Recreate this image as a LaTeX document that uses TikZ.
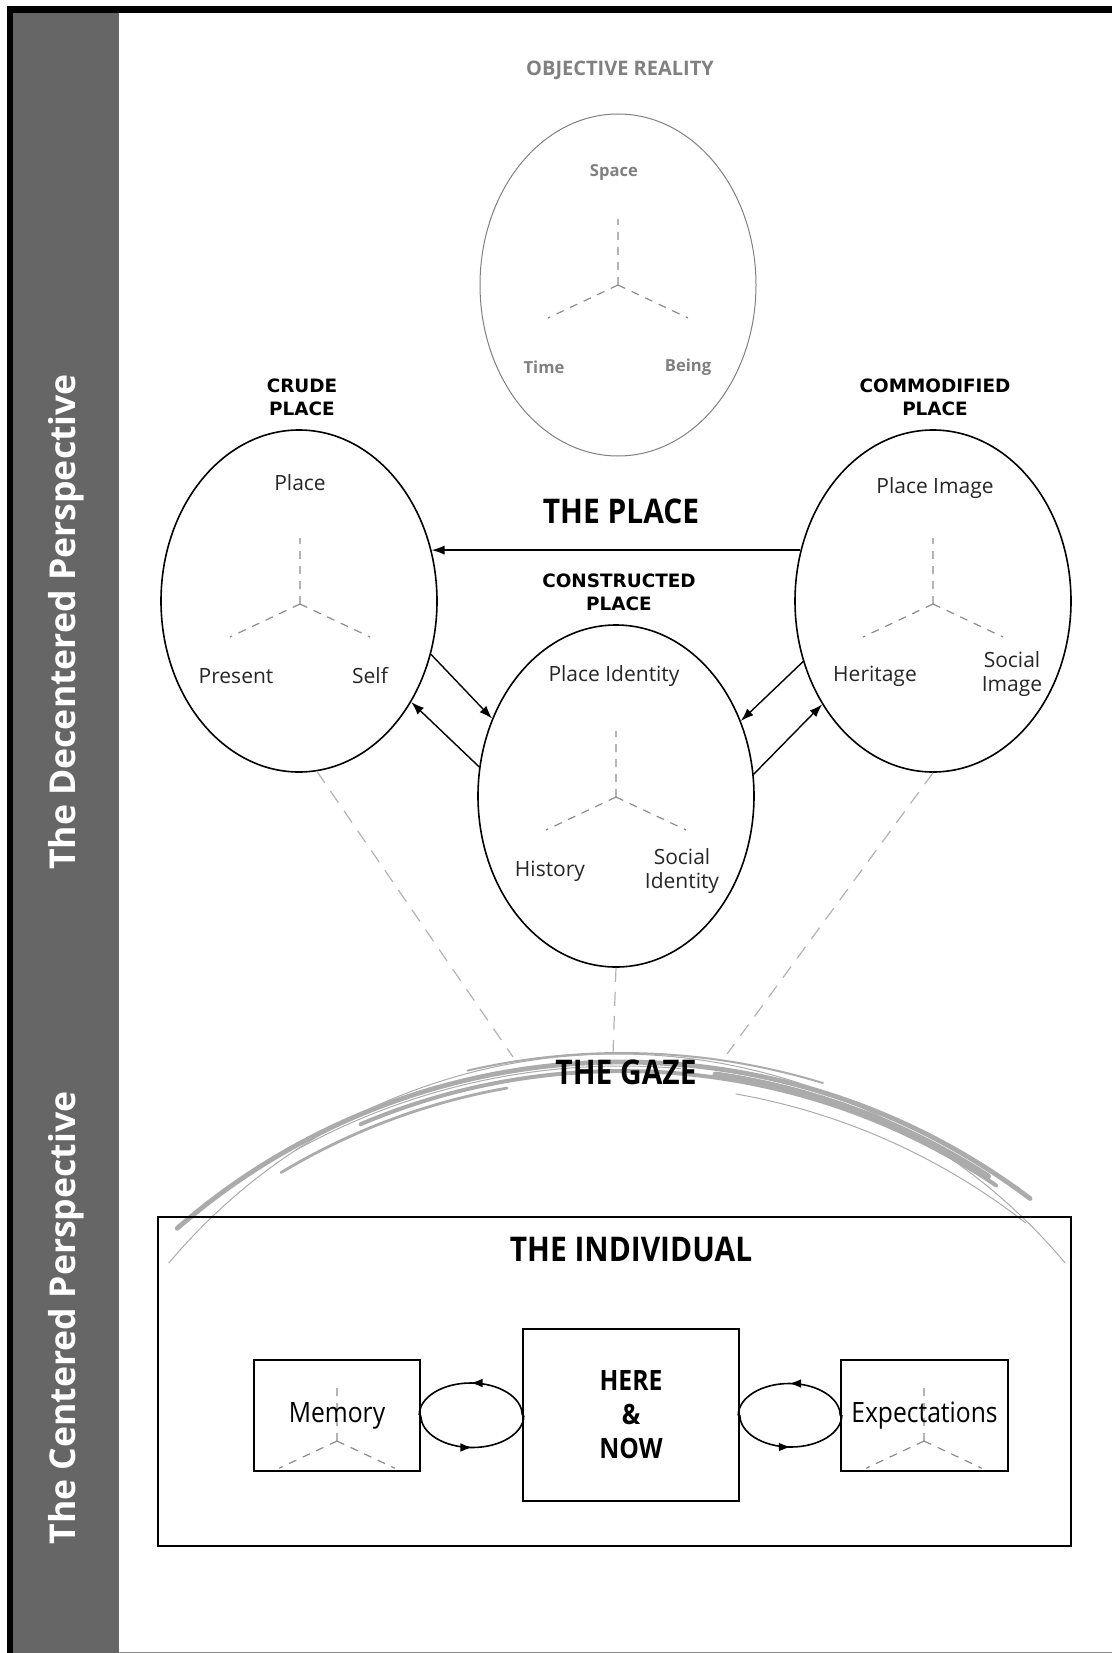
\documentclass[tikz,border=0pt]{standalone}
\usepackage{fontspec}
\setmainfont{Open Sans}
\newfontfamily\widefont{DejaVu Sans}
\newfontfamily\narrowfont{Open Sans}[FakeStretch=0.88]
\usetikzlibrary{shapes.geometric,decorations.markings,arrows.meta}

\begin{document}
\begin{tikzpicture}[x=0.5pt,y=-0.5pt,>={Latex[length=6.5pt,width=4.6pt]},
  oval/.style={ellipse,draw,line width=0.8pt,minimum width=138pt,minimum height=171pt,inner sep=0pt},
  box/.style={draw,line width=0.8pt,inner sep=0pt},
  txt/.style={font=\fontsize{10.5}{12}\selectfont,text=black!85,align=center},
  placecap/.style={font=\widefont\bfseries\fontsize{9.2}{11.5}\selectfont,align=center},
  head/.style={font=\narrowfont\bfseries\fontsize{17}{20}\selectfont},
  grey/.style={font=\bfseries\fontsize{8.3}{10}\selectfont,text=black!50},
  tri/.style={draw=black!45,line width=0.6pt,dash pattern=on 4pt off 3.5pt},
  ray/.style={draw=black!30,line width=0.6pt,dash pattern=on 7pt off 5pt},
  gz/.style={draw=black!33,line cap=round},
  cyc/.style={line width=0.8pt,postaction={decorate},
    decoration={markings,mark=at position 0.5 with {\arrow{Latex[length=6pt,width=4.4pt]}}}},
  side/.style={font=\bfseries\fontsize{17.8}{20}\selectfont,text=white,rotate=90}]
  \useasboundingbox (0,0) rectangle (1112,1653);
  % frame and side bar
  \fill[black] (7,6) rectangle (1112,13);
  \fill[black] (7,6) rectangle (13,1653);
  \fill[black!60] (13,13) rectangle (119,1653);
  \draw[black!45] (119,1652) -- (1112,1652);
  \node[side] (dec) at (66,622) {The Decentered Perspective};
  \node[side] (cen) at (66,1318) {The Centered Perspective};

  % objective reality
  \node[grey,font=\bfseries\fontsize{10}{12}\selectfont] (objt) at (620,70) {OBJECTIVE REALITY};
  \node[oval,draw=black!50,line width=0.5pt] (obj) at (618,285) {};
  \begin{scope}[shift={(618,285)}]
    \draw[tri] (0,0) -- (0,-66) (0,0) -- (-70,33) (0,0) -- (70,33);
  \end{scope}
  \node[grey] (spc) at (614,172) {Space};
  \node[grey] (tim) at (544,367) {Time};
  \node[grey] (bei) at (688,367) {Being};

  % crude place
  \node[placecap] (crudet) at (302,397) {CRUDE\\PLACE};
  \node[oval] (crude) at (299,601) {};
  \begin{scope}[shift={(300,604)}]
    \draw[tri] (0,0) -- (0,-66) (0,0) -- (-70,33) (0,0) -- (70,33);
  \end{scope}
  \node[txt] (plc) at (300,483) {Place};
  \node[txt] (pres) at (236,676) {Present};
  \node[txt] (self) at (370,676) {Self};

  % commodified place
  \node[placecap] (commt) at (935,397) {COMMODIFIED\\PLACE};
  \node[oval] (comm) at (933,601) {};
  \begin{scope}[shift={(933,604)}]
    \draw[tri] (0,0) -- (0,-66) (0,0) -- (-70,33) (0,0) -- (70,33);
  \end{scope}
  \node[txt] (pimg) at (935,488) {Place Image};
  \node[txt] (her) at (875,676) {Heritage};
  \node[txt] (simg) at (1012,674) {Social\\Image};

  % constructed place
  \node[head] (thep) at (621,511) {THE PLACE};
  \node[placecap] (const) at (619,592) {CONSTRUCTED\\PLACE};
  \node[oval] (cons) at (616,796) {};
  \begin{scope}[shift={(616,797)}]
    \draw[tri] (0,0) -- (0,-66) (0,0) -- (-70,33) (0,0) -- (70,33);
  \end{scope}
  \node[txt] (pid) at (614,676) {Place Identity};
  \node[txt] (hist) at (550,871) {History};
  \node[txt] (sid) at (682,871) {Social\\Identity};

  \draw[->,line width=0.7pt] (comm.159) -- (crude.21);
  \draw[->,line width=0.7pt] (crude.-22) -- (cons.148);
  \draw[->,line width=0.7pt] (cons.168) -- (crude.-42);
  \draw[->,line width=0.7pt] (comm.205) -- (cons.31);
  \draw[->,line width=0.7pt] (cons.9) -- (comm.223);

  % the gaze
  \coordinate (gl) at (513,1057);
  \coordinate (gm) at (613,1054);
  \coordinate (gr) at (727,1054);
  \draw[ray] (crude.-84) -- (gl);
  \draw[ray] (cons.south) -- (gm);
  \draw[ray] (comm.south) -- (gr);
  \coordinate (gz) at (622,1740);
  \draw[gz,line width=2.4pt] (gz) ++(-131:678) arc[start angle=-131,end angle=-53,radius=678];
  \draw[gz,line width=2pt] (gz) ++(-113:669) arc[start angle=-113,end angle=-56,radius=669];
  \draw[gz,line width=1pt] (gz) ++(-103:687) arc[start angle=-103,end angle=-73,radius=687];
  \draw[gz,line width=3pt] (gz) ++(-82:672) arc[start angle=-82,end angle=-57,radius=672];
  \draw[gz,line width=1.4pt] (gz) ++(-121:662) arc[start angle=-121,end angle=-100,radius=662];
  \draw[gz,line width=0.5pt] (gz) ++(-119:674) arc[start angle=-119,end angle=-85,radius=674];
  \draw[gz,line width=0.5pt] (gz) ++(-80:656) arc[start angle=-80,end angle=-52,radius=656];
  \draw[gz,line width=0.5pt] (617,1639) ++(-140:585) arc[start angle=-140,end angle=-40,radius=585];
  \node[head] (gaze) at (626,1072) {THE GAZE};

  % the individual
  \node[box,minimum width=456.5pt,minimum height=164.5pt] (indiv) at (614.5,1381.5) {};
  \node[head] (indt) at (631,1249) {THE INDIVIDUAL};
  \begin{scope}[shift={(337,1441)},scale=0.85]
    \draw[tri] (0,0) -- (0,-70) (0,0) -- (-68,32) (0,0) -- (68,32);
  \end{scope}
  \begin{scope}[shift={(924,1441)},scale=0.85]
    \draw[tri] (0,0) -- (0,-70) (0,0) -- (-68,32) (0,0) -- (68,32);
  \end{scope}
  \node[box,minimum width=83pt,minimum height=55.5pt,font=\narrowfont\fontsize{14}{16}\selectfont] (mem) at (337,1415.5) {Memory};
  \node[box,minimum width=108pt,minimum height=86pt,align=center,font=\narrowfont\bfseries\fontsize{14}{17}\selectfont] (here) at (631,1415) {HERE\\\&\\NOW};
  \node[box,minimum width=83.5pt,minimum height=55.5pt,font=\narrowfont\fontsize{14}{16}\selectfont] (exp) at (924.5,1415.5) {Expectations};
  \draw[cyc] (here.west) arc[start angle=0,end angle=-180,x radius=51.5,y radius=32];
  \draw[cyc] (mem.east) arc[start angle=180,end angle=0,x radius=51.5,y radius=32];
  \draw[cyc] (exp.west) arc[start angle=0,end angle=-180,x radius=51,y radius=32];
  \draw[cyc] (here.east) arc[start angle=180,end angle=0,x radius=51,y radius=32];
\end{tikzpicture}
\end{document}
